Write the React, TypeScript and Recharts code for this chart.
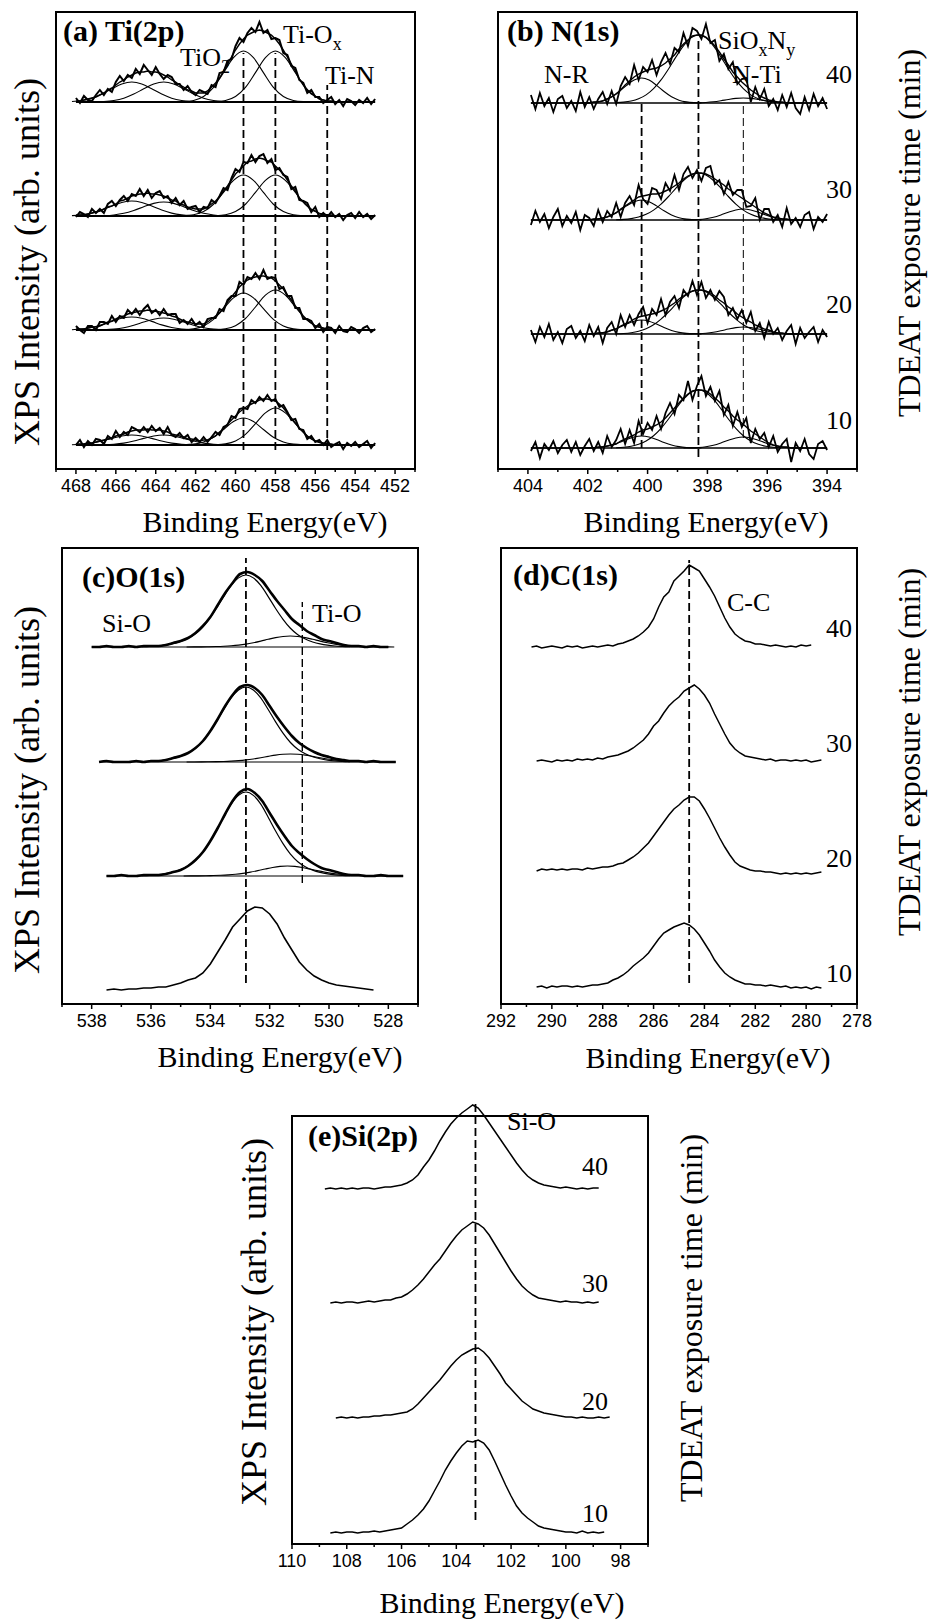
import React from 'react';
import { LineChart, Line, XAxis, YAxis, ReferenceLine, ReferenceArea } from 'recharts';

const SERIF = '"Liberation Serif", "Times New Roman", serif';
const SANS = '"Liberation Sans", Arial, sans-serif';

// exposure times, top trace first
const TIMES = [40, 30, 20, 10];

// ---------- Ti(2p): raw counts and fit envelope, 468.0 eV down in 0.2 eV steps ----------
const TI_START = 468.0;
const TI_STEP = 0.2;
const TI_RAW_40 = [4,-1,6,2,1,7,12,7,13,10,20,26,21,27,24,33,28,37,32,27,35,28,23,27,25,18,18,12,16,10,7,12,10,8,17,15,29,30,41,43,56,64,60,69,74,70,80,69,72,63,64,62,49,47,36,34,22,19,9,12,5,5,-1,2,5,-2,2,-4,3,1,-3,2,-1,4,-2,3];
const TI_RAW_30 = [-1,4,2,-1,7,3,7,3,12,15,10,16,20,15,22,20,27,20,26,18,23,25,18,20,13,18,11,15,7,9,10,4,9,8,16,13,20,28,26,38,47,44,54,53,61,54,60,62,53,57,46,48,41,39,27,29,16,15,13,4,9,-1,3,-1,4,-1,2,-4,1,3,-2,4,-1,2,-3,1];
const TI_RAW_20 = [4,0,-3,4,4,0,8,8,6,14,8,14,12,20,16,21,15,21,25,17,20,15,21,15,16,16,7,10,6,11,5,8,3,11,12,12,21,19,30,34,34,48,45,53,51,57,51,60,51,53,52,41,43,34,34,22,22,11,11,9,2,6,-2,3,2,-3,4,-1,-2,3,1,-3,2,4,-2,1];
const TI_RAW_10 = [0,5,-2,4,0,6,5,1,9,6,14,8,13,10,18,16,13,18,13,19,14,17,11,18,10,8,12,7,10,3,7,3,8,3,8,13,10,18,20,29,27,36,37,36,45,42,48,44,50,44,46,38,40,33,25,26,16,15,6,9,3,5,0,5,-2,1,3,-4,2,-1,3,-2,1,4,-3,2];
const TI_ENV_40 = [1,1,2,3,4,5,7,9,12,14,17,20,22,25,27,29,30,30,31,30,30,29,27,25,22,20,17,15,12,11,9,9,9,11,15,19,24,31,38,45,52,58,63,67,69,71,72,71,69,67,63,58,52,45,38,31,23,17,12,8,6,3,2,1,1,0,0,0,0,0,0,0,0,0,0,0];
const TI_ENV_30 = [1,1,1,2,3,4,5,7,9,10,12,15,16,18,20,21,22,22,23,22,22,21,20,18,16,15,12,11,9,8,7,7,7,9,12,15,19,25,30,36,42,46,50,54,55,57,58,57,55,54,50,46,42,36,30,25,18,14,10,6,5,2,2,1,1,0,0,0,0,0,0,0,0,0,0,0];
const TI_ENV_20 = [1,1,1,2,3,3,4,6,8,9,11,13,14,16,17,18,19,19,20,19,19,18,17,16,14,13,11,9,8,7,6,6,6,8,11,14,17,22,28,33,38,43,47,50,52,53,54,54,53,52,49,45,41,35,30,24,19,14,10,7,4,3,2,1,1,0,0,0,0,0,0,0,0,0,0,0];
const TI_ENV_10 = [1,1,1,2,2,3,4,5,6,7,9,10,11,13,14,15,15,15,16,15,15,15,14,13,11,10,9,8,6,6,5,4,5,5,7,9,13,16,21,25,29,33,36,39,41,43,45,46,46,45,44,41,37,32,27,22,17,13,9,6,4,3,2,1,1,0,0,0,0,0,0,0,0,0,0,0];
// fitted components: 2p3/2 Ti-Ox, 2p3/2 Ti-N side, 2p1/2 pair
const TI_CENTERS = [459.6, 458.0, 465.2, 463.6];
const TI_HEIGHTS = [[51, 51, 20, 20], [41, 41, 15, 14], [37, 40, 13, 12], [27, 37, 10, 10]];
const TI_SHAPE_32 = [0.007,0.031,0.109,0.287,0.575,0.87,1,0.87,0.575,0.287,0.109,0.031,0.007];
const TI_SHAPE_12 = [0.024,0.076,0.191,0.395,0.662,0.902,1,0.902,0.662,0.395,0.191,0.076,0.024];
const TI_BASE = [367, 253, 139, 24];

// ---------- N(1s): 403.9 eV down in 0.15 eV steps ----------
const N_START = 403.9;
const N_STEP = 0.15;
const N_RAW_40 = [8,-6,10,-3,5,-9,4,7,-5,2,-8,11,-4,6,-6,4,11,-1,12,-1,17,26,19,38,23,36,31,43,28,41,50,39,55,51,70,57,75,72,64,79,60,63,42,49,34,41,19,24,25,1,16,4,14,-3,4,-7,8,-4,10,-5,-11,6,-7,9,-3,5,-6];
const N_RAW_30 = [-5,9,-2,6,-8,3,11,-6,4,-3,8,-10,5,2,-6,10,-2,9,3,17,3,17,24,15,35,21,16,32,30,21,37,29,45,30,46,53,42,50,39,52,54,36,40,26,38,25,30,30,13,14,22,0,11,11,-2,5,-7,12,-4,2,-7,5,8,-9,3,-2,6];
const N_RAW_20 = [4,-8,7,-3,10,-6,2,-9,5,8,-4,3,-7,9,-2,7,-9,6,12,0,19,7,19,9,20,27,11,25,19,35,19,32,38,26,44,38,53,39,52,36,44,34,43,37,19,26,15,24,11,22,3,11,-4,12,0,6,-6,3,9,-10,6,-4,2,7,-8,4,-3];
const N_RAW_10 = [-3,6,-10,4,-2,7,-5,3,8,-4,6,-7,2,9,-3,6,-5,12,1,8,19,4,18,5,27,14,25,18,32,19,35,45,34,53,48,67,48,62,72,52,61,47,57,33,43,22,36,21,30,5,19,9,15,1,12,-4,4,9,-14,5,-3,9,-6,-11,4,7,-2];
const N_ENV_40 = [0,0,0,0,0,0,0,0,0,0,0,0,0,0,1,1,2,4,6,9,13,18,22,26,29,31,33,34,35,37,40,44,48,54,59,63,67,68,68,66,62,57,51,44,38,31,26,21,17,13,10,7,5,3,2,1,1,0,0,0,0,0,0,0,0,0,0];
const N_ENV_30 = [0,0,0,0,0,0,0,0,0,0,0,0,0,0,1,1,2,3,5,7,11,14,17,20,23,24,25,26,26,27,29,31,34,37,41,44,46,47,47,46,44,41,38,35,31,28,25,22,19,16,13,10,7,5,3,2,1,1,0,0,0,0,0,0,0,0,0];
const N_ENV_20 = [0,0,0,0,0,0,0,0,0,0,0,0,0,0,0,1,1,2,4,5,8,10,12,15,17,18,19,20,21,23,25,28,31,35,38,41,43,44,44,43,41,38,34,31,27,24,20,17,14,12,9,7,5,4,2,1,1,0,0,0,0,0,0,0,0,0,0];
const N_ENV_10 = [0,0,0,0,0,0,0,0,0,0,0,0,0,0,0,1,1,2,3,4,7,9,11,13,16,18,19,21,23,26,30,35,40,45,50,54,57,58,58,57,54,50,46,41,37,32,28,25,21,17,14,11,8,5,3,2,1,1,0,0,0,0,0,0,0,0,0];
// SiOxNy, N-R, N-Ti
const N_CENTERS = [398.3, 400.2, 396.8];
const N_HEIGHTS = [[68, 25, 5], [47, 20, 11], [44, 14, 7], [58, 12, 11]];
const N_SHAPE_WIDE = [0.005,0.013,0.03,0.063,0.12,0.211,0.339,0.5,0.678,0.841,0.958,1,0.958,0.841,0.678,0.5,0.339,0.211,0.12,0.063,0.03,0.013,0.005];
const N_SHAPE_NARROW = [0.004,0.014,0.044,0.114,0.249,0.458,0.707,0.917,1,0.917,0.707,0.458,0.249,0.114,0.044,0.014,0.004];
const N_BASE = [366, 249, 135, 21];

// ---------- O(1s): 0.25 eV steps ----------
const O_STEP = 0.25;
const O_STARTS = [538.0, 537.75, 537.5, 537.5];
const O_RAW_40 = [0,0,1,0,0,1,0,1,1,1,2,4,6,9,14,21,30,42,54,64,73,75,72,66,56,46,37,28,22,16,12,8,6,4,2,1,1,0,1,0,0];
const O_RAW_30 = [0,1,0,0,0,1,0,1,1,2,4,6,9,14,21,31,43,56,67,75,77,74,67,56,45,35,26,19,14,10,7,5,3,2,1,1,0,1,0,0,0];
const O_RAW_20 = [0,0,1,0,0,1,1,1,2,4,6,10,16,24,35,48,62,75,84,87,83,75,63,51,40,30,23,17,12,8,6,4,2,1,1,0,0,1,0,0,0];
const O_RAW_10 = [0,1,0,1,1,2,2,3,3,5,7,10,12,17,26,38,50,63,71,79,83,82,76,66,52,40,28,20,14,10,7,5,4,3,2,1,0];
const O_SIO_CENTER = 532.8;
const O_SIO_HEIGHTS = [72, 75, 84];
const O_TIO_CENTERS = [531.3, 531.3, 531.4];
const O_TIO_HEIGHTS = [11, 8, 10];
const O_SHAPE = [0.004,0.008,0.014,0.025,0.043,0.07,0.11,0.17,0.26,0.385,0.535,0.7,0.855,0.96,1,0.96,0.855,0.7,0.535,0.385,0.26,0.17,0.11,0.07,0.043,0.025,0.014,0.008,0.004];
const O_BASE = [357, 242, 128, 14];

// ---------- C(1s): 0.2 eV steps ----------
const C_STEP = 0.2;
const C_STARTS = [290.8, 290.6, 290.6, 290.6];
const C_RAW_40 = [0,1,-1,0,1,0,-1,1,0,1,-1,0,1,0,1,2,1,3,4,6,8,11,15,20,28,40,50,55,66,71,76,82,79,76,68,60,51,40,29,20,13,9,6,5,3,3,2,1,2,1,0,1,0,2,1,2];
const C_RAW_30 = [0,1,0,-1,1,0,1,0,2,1,2,1,3,2,4,5,6,8,10,13,17,21,27,35,40,48,55,60,64,70,73,76,72,66,58,47,37,27,18,12,8,5,4,3,2,1,2,0,1,1,0,1,0,1,-1,0,1];
const C_RAW_20 = [2,4,3,4,3,4,3,4,4,3,5,4,5,6,6,7,9,10,13,16,20,25,30,37,44,51,58,64,68,73,76,76,72,64,55,45,35,26,18,11,7,5,3,2,2,1,1,0,-1,0,-1,0,-1,0,-1,0,1];
const C_RAW_10 = [0,1,-1,1,0,1,1,0,1,0,1,2,2,3,4,7,9,12,16,21,25,29,34,41,48,54,57,60,62,64,62,58,52,44,36,27,20,14,10,7,5,3,3,2,2,1,2,1,0,1,-1,0,-1,0,-2,0,-1];
const C_BASE = [357, 243, 131, 17];

// ---------- Si(2p): 0.2 eV steps ----------
const SI_STEP = 0.2;
const SI_STARTS = [108.8, 108.6, 108.4, 108.6];
const SI_RAW_40 = [0,1,0,1,0,1,0,1,1,0,1,2,2,3,4,6,9,14,22,29,38,48,57,65,71,76,80,84,81,74,66,58,50,42,34,26,19,13,9,6,4,3,2,1,2,1,0,1,0,1,1];
const SI_RAW_30 = [0,1,0,1,1,0,1,2,1,2,3,3,5,6,9,13,18,24,31,38,44,52,60,67,73,77,81,79,75,68,59,50,41,32,24,17,12,8,5,4,3,2,1,2,1,1,0,1,0,1];
const SI_RAW_20 = [0,1,0,1,0,1,1,2,2,3,3,4,5,6,9,14,20,26,32,38,45,52,58,63,66,69,70,66,60,52,44,35,29,23,17,13,9,7,5,4,3,2,1,1,0,1,0,0,1,0,1];
const SI_RAW_10 = [0,1,0,1,1,0,1,1,2,1,2,3,4,5,9,13,18,24,32,42,52,63,72,80,87,92,91,93,90,83,72,60,48,37,27,20,15,11,7,5,4,3,2,1,1,0,2,0,1,0,1];
const SI_BASE = [355, 241, 126, 11];

type Pt = { x: number; y: number };
type Trace = { id: string; pts: Pt[]; w: number; curve?: 'linear' | 'monotone' };
type Dash = { x: number; y0: number; y1: number; w?: number };

const series = (start: number, step: number, ys: number[], base: number): Pt[] =>
  ys.map((v, i) => ({ x: +(start - i * step).toFixed(3), y: base + v }));

const peak = (center: number, step: number, shape: number[], h: number, base: number): Pt[] => {
  const mid = (shape.length - 1) / 2;
  return shape.map((p, k) => ({ x: +(center + (k - mid) * step).toFixed(3), y: base + p * h }));
};

const flat = (from: number, to: number, base: number): Pt[] => [{ x: from, y: base }, { x: to, y: base }];

function EnergyTick(props: any) {
  const { x, y, payload } = props;
  const v = payload.value;
  const major = Math.round(v) % 2 === 0;
  return (
    <g>
      <line x1={x} x2={x} y1={y} y2={y + (major ? 5 : 3)} stroke="#000" strokeWidth={1.5} />
      {major ? (
        <text x={x} y={y + 23} textAnchor="middle" fontFamily={SANS} fontSize={18} fill="#000">{v}</text>
      ) : null}
    </g>
  );
}

const HEAD = 30; // plot room above the frame

function Panel({ left, top, width, height, domain, traces, dashes }: {
  left: number; top: number; width: number; height: number;
  domain: [number, number]; traces: Trace[]; dashes: Dash[];
}) {
  const ticks: number[] = [];
  for (let t = Math.ceil(domain[0]); t <= domain[1]; t++) ticks.push(t);
  const yTicks: number[] = [];
  for (let t = 0; t <= height; t += 9) yTicks.push(t);
  const side = 20;
  return (
    <div style={{ position: 'absolute', left: left - side, top: top - HEAD }}>
      <LineChart width={width + 2 * side} height={height + HEAD + 40} margin={{ top: 0, right: side, bottom: 0, left: side }}>
        <XAxis xAxisId="e" type="number" dataKey="x" domain={domain} reversed allowDataOverflow
          ticks={ticks} interval={0} height={40} axisLine={false} tickLine={false}
          tickSize={0} tickMargin={0} tick={<EnergyTick />} />
        <YAxis yAxisId="i" type="number" domain={[0, height + HEAD]} allowDataOverflow width={0}
          ticks={yTicks} tickSize={2} tickFormatter={() => ''} axisLine={false}
          tickLine={{ stroke: '#000', strokeWidth: 1 }} />
        <YAxis yAxisId="r" orientation="right" type="number" domain={[0, height + HEAD]} allowDataOverflow width={0}
          ticks={yTicks} tickSize={2} tickFormatter={() => ''} axisLine={false}
          tickLine={{ stroke: '#000', strokeWidth: 1 }} />
        <ReferenceArea xAxisId="e" yAxisId="i" x1={domain[0]} x2={domain[1]} y1={0} y2={height}
          fill="none" fillOpacity={0} stroke="#000" strokeWidth={2} />
        {dashes.map((d, k) => (
          <ReferenceLine key={'d' + k} xAxisId="e" yAxisId="i"
            segment={[{ x: d.x, y: d.y0 }, { x: d.x, y: d.y1 }]}
            stroke="#000" strokeWidth={d.w ?? 1.8} strokeDasharray="8 4" />
        ))}
        {traces.map((t) => (
          <Line key={t.id} xAxisId="e" yAxisId="i" data={t.pts} dataKey="y" type={t.curve ?? 'linear'}
            stroke="#000" strokeWidth={t.w} dot={false} activeDot={false} isAnimationActive={false} />
        ))}
      </LineChart>
    </div>
  );
}

function tiTraces(): Trace[] {
  const raw = [TI_RAW_40, TI_RAW_30, TI_RAW_20, TI_RAW_10];
  const env = [TI_ENV_40, TI_ENV_30, TI_ENV_20, TI_ENV_10];
  const out: Trace[] = [];
  TIMES.forEach((_, j) => {
    const b = TI_BASE[j];
    out.push({ id: 'tb' + j, pts: flat(TI_START, TI_START - (raw[j].length - 1) * TI_STEP, b), w: 2 });
    TI_CENTERS.forEach((c, k) => {
      const shape = k < 2 ? TI_SHAPE_32 : TI_SHAPE_12;
      out.push({ id: `tc${j}${k}`, pts: peak(c, 0.5, shape, TI_HEIGHTS[j][k], b), w: 1.1, curve: 'monotone' });
    });
    out.push({ id: 'te' + j, pts: series(TI_START, TI_STEP, env[j], b), w: 1.4 });
    out.push({ id: 'tr' + j, pts: series(TI_START, TI_STEP, raw[j], b), w: 2 });
  });
  return out;
}

function nTraces(): Trace[] {
  const raw = [N_RAW_40, N_RAW_30, N_RAW_20, N_RAW_10];
  const env = [N_ENV_40, N_ENV_30, N_ENV_20, N_ENV_10];
  const out: Trace[] = [];
  TIMES.forEach((_, j) => {
    const b = N_BASE[j];
    out.push({ id: 'nb' + j, pts: flat(N_START, N_START - (raw[j].length - 1) * N_STEP, b), w: 1.6 });
    N_CENTERS.forEach((c, k) => {
      const shape = k === 0 ? N_SHAPE_WIDE : N_SHAPE_NARROW;
      out.push({ id: `nc${j}${k}`, pts: peak(c, 0.25, shape, N_HEIGHTS[j][k], b), w: 1.1, curve: 'monotone' });
    });
    out.push({ id: 'ne' + j, pts: series(N_START, N_STEP, env[j], b), w: 1.4 });
    out.push({ id: 'nr' + j, pts: series(N_START, N_STEP, raw[j], b), w: 1.8 });
  });
  return out;
}

function oTraces(): Trace[] {
  const raw = [O_RAW_40, O_RAW_30, O_RAW_20, O_RAW_10];
  const out: Trace[] = [];
  TIMES.forEach((_, j) => {
    const b = O_BASE[j];
    const s = O_STARTS[j];
    if (j < 3) {
      out.push({ id: 'ob' + j, pts: flat(s, s - (raw[j].length - 1) * O_STEP, b), w: 1.2 });
      out.push({ id: 'os' + j, pts: peak(O_SIO_CENTER, O_STEP, O_SHAPE, O_SIO_HEIGHTS[j], b), w: 1.2, curve: 'monotone' });
      out.push({ id: 'ot' + j, pts: peak(O_TIO_CENTERS[j], O_STEP, O_SHAPE, O_TIO_HEIGHTS[j], b), w: 1.1, curve: 'monotone' });
      out.push({ id: 'or' + j, pts: series(s, O_STEP, raw[j], b), w: 2.6, curve: 'monotone' });
    } else {
      out.push({ id: 'or' + j, pts: series(s, O_STEP, raw[j], b), w: 1.6 });
    }
  });
  return out;
}

function plainTraces(tag: string, raws: number[][], starts: number[], step: number, bases: number[]): Trace[] {
  return raws.map((r, j) => ({ id: tag + j, pts: series(starts[j], step, r, bases[j]), w: 1.5 }));
}

function Labels() {
  const lab = { fontFamily: SERIF, fill: '#000' } as const;
  const title = 'Binding Energy(eV)';
  const left = 'XPS Intensity (arb. units)';
  const right = 'TDEAT exposure time (min)';
  const rot = (cx: number, cy: number, text: string, size: number) => (
    <text x={cx} y={cy} transform={`rotate(-90 ${cx} ${cy})`} textAnchor="middle" dominantBaseline="central"
      fontSize={size} {...lab}>{text}</text>
  );
  const nums = (x: number, ys: number[]) => TIMES.map((t, k) => (
    <text key={`${x}-${t}`} x={x} y={ys[k]} textAnchor="end" fontSize={26} {...lab}>{t}</text>
  ));
  return (
    <svg width={928} height={1621} style={{ position: 'absolute', left: 0, top: 0, pointerEvents: 'none' }}>
      <text x={63} y={41} fontSize={30} fontWeight="bold" {...lab}>(a) Ti(2p)</text>
      <text x={507} y={41} fontSize={30} fontWeight="bold" {...lab}>(b) N(1s)</text>
      <text x={82} y={587} fontSize={30} fontWeight="bold" {...lab}>(c)O(1s)</text>
      <text x={513} y={585} fontSize={30} fontWeight="bold" {...lab}>(d)C(1s)</text>
      <text x={308} y={1146} fontSize={30} fontWeight="bold" {...lab}>(e)Si(2p)</text>

      <text x={180} y={66} fontSize={26} {...lab}>TiO<tspan dy={7} fontSize={18}>2</tspan></text>
      <text x={283} y={43} fontSize={26} {...lab}>Ti-O<tspan dy={7} fontSize={18}>x</tspan></text>
      <text x={325} y={84} fontSize={26} {...lab}>Ti-N</text>
      <text x={544} y={83} fontSize={26} {...lab}>N-R</text>
      <text x={732} y={83} fontSize={26} {...lab}>N-Ti</text>
      <text x={718} y={49} fontSize={26} {...lab}>SiO<tspan dy={7} fontSize={18}>x</tspan><tspan dy={-7}>N</tspan><tspan dy={7} fontSize={18}>y</tspan></text>
      <text x={102} y={632} fontSize={26} {...lab}>Si-O</text>
      <text x={312} y={622} fontSize={26} {...lab}>Ti-O</text>
      <text x={727} y={611} fontSize={26} {...lab}>C-C</text>
      <text x={507} y={1130} fontSize={26} {...lab}>Si-O</text>

      {nums(852, [83, 198, 313, 429])}
      {nums(852, [637, 752, 867, 982])}
      {nums(608, [1175, 1292, 1410, 1522])}

      <text x={265} y={532} textAnchor="middle" fontSize={30} {...lab}>{title}</text>
      <text x={706} y={532} textAnchor="middle" fontSize={30} {...lab}>{title}</text>
      <text x={280} y={1067} textAnchor="middle" fontSize={30} {...lab}>{title}</text>
      <text x={708} y={1068} textAnchor="middle" fontSize={30} {...lab}>{title}</text>
      <text x={502} y={1613} textAnchor="middle" fontSize={30} {...lab}>{title}</text>

      {rot(27, 262, left, 36)}
      {rot(27, 790, left, 36)}
      {rot(254, 1322, left, 36)}
      {rot(909, 233, right, 32)}
      {rot(909, 752, right, 32)}
      {rot(691, 1318, right, 32)}
    </svg>
  );
}

export default function App() {
  return (
    <div style={{ position: 'absolute', left: 0, top: 0, width: 928, height: 1621, background: '#fff' }}>
      <Panel left={56} top={12} width={359} height={457} domain={[451, 469]} traces={tiTraces()}
        dashes={[{ x: 459.6, y0: 19, y1: 416 }, { x: 458.0, y0: 19, y1: 416 }, { x: 455.4, y0: 19, y1: 384 }]} />
      <Panel left={498} top={12} width={359} height={457} domain={[393, 405]} traces={nTraces()}
        dashes={[{ x: 400.2, y0: 21, y1: 366 }, { x: 398.3, y0: 12, y1: 429 }, { x: 396.8, y0: 31, y1: 366, w: 1 }]} />
      <Panel left={62} top={548} width={356} height={456} domain={[527, 539]} traces={oTraces()}
        dashes={[{ x: 532.8, y0: 21, y1: 446 }, { x: 530.9, y0: 121, y1: 402, w: 1.4 }]} />
      <Panel left={501} top={548} width={356} height={456} domain={[278, 292]}
        traces={plainTraces('c', [C_RAW_40, C_RAW_30, C_RAW_20, C_RAW_10], C_STARTS, C_STEP, C_BASE)}
        dashes={[{ x: 284.6, y0: 21, y1: 444 }]} />
      <Panel left={292} top={1116} width={356} height={428} domain={[97, 110]}
        traces={plainTraces('s', [SI_RAW_40, SI_RAW_30, SI_RAW_20, SI_RAW_10], SI_STARTS, SI_STEP, SI_BASE)}
        dashes={[{ x: 103.3, y0: 24, y1: 440 }]} />
      <Labels />
    </div>
  );
}
